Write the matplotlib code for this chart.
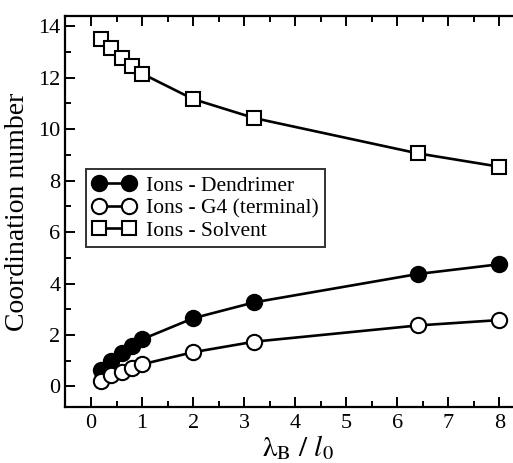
import matplotlib
matplotlib.use("Agg")
import matplotlib.pyplot as plt
from matplotlib.ticker import MultipleLocator

x = [0.2, 0.4, 0.6, 0.8, 1.0, 2.0, 3.2, 6.4, 8.0]
dendrimer = [0.62, 0.98, 1.31, 1.57, 1.83, 2.65, 3.27, 4.37, 4.75]
g4_terminal = [0.23, 0.43, 0.57, 0.70, 0.86, 1.33, 1.74, 2.37, 2.58]
solvent = [13.52, 13.16, 12.77, 12.44, 12.16, 11.17, 10.43, 9.06, 8.54]
labels = ["Ions - Dendrimer", "Ions - G4 (terminal)", "Ions - Solvent"]

plt.rcParams['font.family'] = ['Liberation Serif', 'DejaVu Serif']
plt.rcParams['mathtext.fontset'] = 'stix'

W, H = 513, 463
fig = plt.figure(figsize=(W/100, H/100), dpi=100)
x0, x1 = -0.5, 8.6
px_per = 51.06
left_px = 91 + x0*px_per
right_px = 91 + x1*px_per
ax = fig.add_axes([left_px/W, 1-407/H, (right_px-left_px)/W, (407-16)/H])

lw = 1.9
mew = 1.5
ax.plot(x, dendrimer, '-o', color='black', lw=lw, ms=11, mfc='black', mec='black', mew=mew, label=labels[0])
ax.plot(x, g4_terminal, '-o', color='black', lw=lw, ms=11, mfc='white', mec='black', mew=mew, label=labels[1])
ax.plot(x, solvent, '-s', color='black', lw=lw, ms=10, mfc='white', mec='black', mew=mew, label=labels[2])

ax.set_xlim(x0, x1)
ax.set_ylim(-0.8, 14.4)
ax.xaxis.set_major_locator(MultipleLocator(1))
ax.xaxis.set_minor_locator(MultipleLocator(0.5))
ax.yaxis.set_major_locator(MultipleLocator(2))
ax.yaxis.set_minor_locator(MultipleLocator(1))
ax.tick_params(which='both', direction='in', top=True, right=True, width=1.4, labelsize=16)
ax.tick_params(which='major', length=7)
ax.tick_params(which='minor', length=4)
ax.tick_params(axis='x', pad=5)
for s in ax.spines.values():
    s.set_linewidth(1.6)

ax.set_ylabel('Coordination number', fontsize=20, labelpad=6)
ax.set_xlabel(r'$\mathrm{\lambda}_{\mathrm{B}}\ /\ l_0$', fontsize=21, labelpad=0)

leg = ax.legend(loc='upper left', bbox_to_anchor=((86-left_px)/(right_px-left_px), 1-(169-16)/391),
                borderaxespad=0, fontsize=15.5, frameon=True, fancybox=False, edgecolor='black',
                labelspacing=0.12, handlelength=2.0, handletextpad=0.5, borderpad=0.3, numpoints=2)
leg.get_frame().set_linewidth(1.4)

fig.savefig('out.png', dpi=100)
